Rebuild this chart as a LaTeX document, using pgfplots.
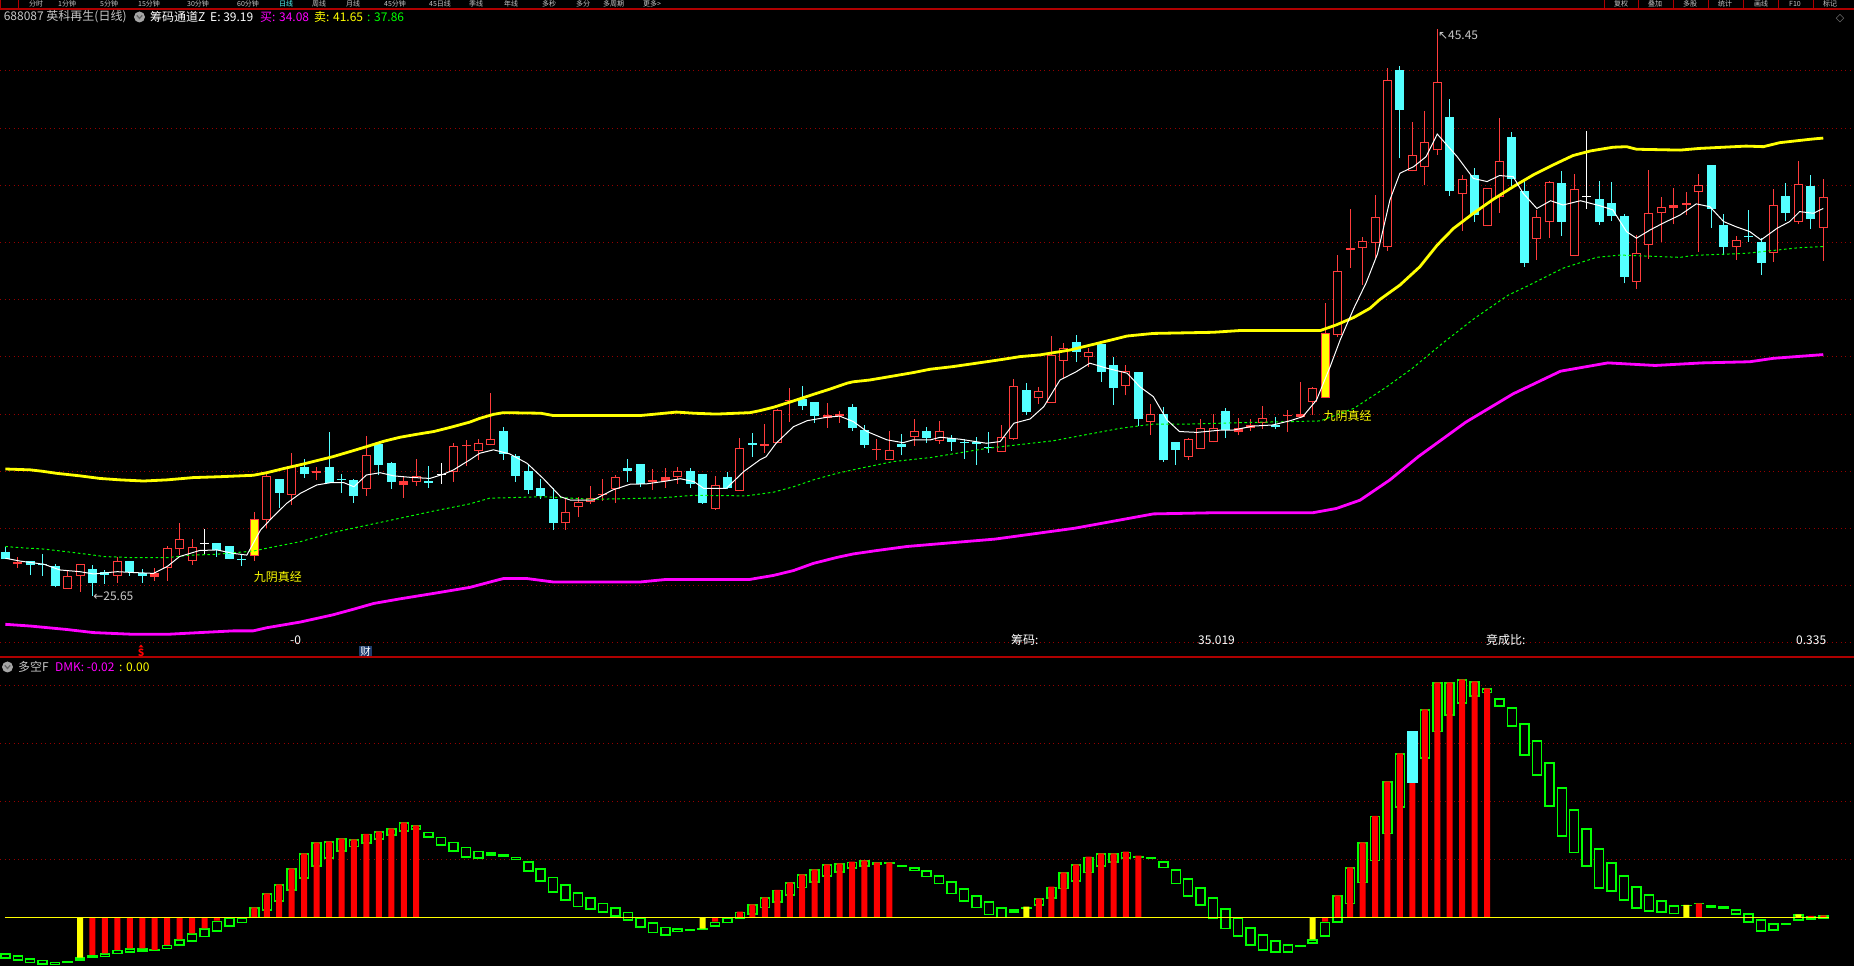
\documentclass[border=0pt]{standalone}
\usepackage{pgfplots}
\pgfplotsset{compat=1.18}
\usepackage{pgfplotstable}
\usepackage{fontspec}
\setmainfont{Noto Sans CJK SC}
\newfontfamily\djv{DejaVu Sans}
\definecolor{cred}{RGB}{255,60,60}
\definecolor{ccyan}{RGB}{84,255,255}
\definecolor{cyel}{RGB}{255,255,0}
\definecolor{cmag}{RGB}{255,0,255}
\definecolor{cgrn}{RGB}{0,255,0}
\definecolor{bred}{RGB}{255,0,0}
\definecolor{gridred}{RGB}{150,0,0}
\definecolor{sepred}{RGB}{175,0,0}
\definecolor{tgray}{RGB}{200,200,200}
\definecolor{cblue}{RGB}{30,60,110}

% ---------- candles: i open high low close ----------
\pgfplotstableread{
i o h l c
5 25.90 26.53 25.90 26.33
6 26.35 26.75 25.79 26.75
9 26.35 26.99 26.11 26.85
13 26.61 27.39 26.18 27.31
14 27.27 28.19 27.06 27.62
15 26.85 27.62 26.74 27.34
21 28.30 29.91 28.03 29.84
23 29.18 30.63 28.83 30.20
29 29.39 31.23 29.15 30.56
33 29.61 30.42 29.50 29.82
36 29.99 30.98 29.64 30.89
38 30.70 31.13 30.41 30.98
39 30.93 32.74 30.91 31.12
45 28.18 29.02 27.96 28.58
46 28.74 29.09 28.40 28.93
47 28.92 29.49 28.85 29.07
49 29.39 29.86 28.90 29.79
54 29.79 30.15 29.57 30.00
57 28.69 29.84 28.66 29.51
59 29.32 31.18 29.32 30.80
62 31.00 32.17 30.98 32.13
71 30.41 31.41 30.41 30.73
73 31.21 31.83 30.90 31.40
75 31.07 31.76 30.96 31.40
80 30.69 31.62 30.69 31.19
81 31.14 33.23 31.11 32.97
83 32.57 32.95 32.35 32.80
84 32.40 34.73 32.40 34.06
85 33.87 34.49 33.27 34.30
87 33.99 34.32 33.66 34.16
90 32.99 33.72 32.65 33.51
92 31.74 32.34 31.28 31.99
95 30.51 31.18 30.40 31.13
96 30.79 31.83 30.79 31.51
97 31.01 32.00 31.01 31.51
101 31.69 32.28 31.48 31.86
105 32.41 32.94 31.97 32.90
107 34.78 37.56 34.70 37.00
109 37.80 38.20 36.51 38.06
110 37.99 39.66 37.47 38.88
111 37.83 44.09 37.71 43.67
113 40.49 42.21 40.49 41.05
114 40.63 42.61 40.00 41.50
115 41.22 45.45 41.07 43.60
117 39.68 40.36 38.41 40.21
119 38.56 39.92 38.56 39.89
120 39.60 42.35 39.04 40.84
123 38.13 39.14 37.40 38.88
124 38.70 40.14 38.17 40.10
126 37.52 40.39 37.52 39.86
131 36.61 38.26 36.39 37.62
132 37.92 40.53 37.43 39.02
133 39.02 39.59 38.02 39.23
136 39.75 40.39 37.67 40.00
139 37.83 38.22 37.40 38.10
142 37.63 39.87 37.33 39.30
144 38.70 40.85 38.63 40.03
146 38.50 40.23 37.36 39.59
}\redH
\pgfplotstableread{
i o h l c
1 26.75 26.99 26.63 26.83
12 26.32 26.62 26.18 26.43
25 29.95 30.14 29.70 30.00
32 29.51 29.79 29.08 29.65
37 30.87 31.10 30.20 30.91
48 29.17 29.73 28.96 29.22
52 29.63 30.07 29.36 29.68
53 29.67 30.12 29.43 29.79
61 30.90 31.65 30.65 30.94
63 32.47 32.91 31.74 32.51
66 31.85 32.39 31.53 31.96
67 31.95 32.10 31.70 32.00
70 30.74 31.14 30.41 30.78
99 31.36 31.86 31.26 31.50
100 31.50 31.83 31.42 31.61
103 31.94 32.14 31.39 31.98
104 31.91 33.12 31.85 32.00
108 37.74 39.17 37.10 37.80
134 39.19 39.91 38.63 39.30
135 39.32 39.77 38.95 39.37
}\redD
\pgfplotstableread{
i o h l c
0 27.17 27.37 26.93 26.93
2 26.88 26.88 26.37 26.72
3 26.75 27.11 26.34 26.71
4 26.69 26.75 25.94 25.99
7 26.57 26.71 25.65 26.11
8 26.47 26.55 26.06 26.37
10 26.85 26.85 26.35 26.49
11 26.43 26.57 26.11 26.35
17 27.49 27.49 27.02 27.24
18 27.38 27.38 26.92 26.95
19 26.95 27.06 26.70 26.89
22 29.73 29.73 28.71 29.25
24 30.15 30.42 29.77 29.92
26 30.15 31.37 29.58 29.58
27 29.73 29.91 29.25 29.69
28 29.68 29.72 28.90 29.14
30 30.96 30.96 29.86 30.23
31 30.29 30.33 29.39 29.64
34 29.67 30.19 29.43 29.60
40 31.41 31.56 30.41 30.62
41 30.54 30.61 29.64 29.85
42 30.02 30.22 29.22 29.36
43 29.42 29.73 29.04 29.14
44 29.03 29.40 27.96 28.20
50 30.12 30.43 29.64 30.01
51 30.26 30.26 29.44 29.56
55 30.00 30.12 29.43 29.57
56 29.91 29.91 28.87 28.90
58 29.80 29.98 29.39 29.43
60 30.98 31.34 30.51 30.93
64 32.53 32.98 32.14 32.30
65 32.42 32.42 31.70 31.93
68 32.25 32.35 31.42 31.53
69 31.44 31.61 30.83 30.93
72 30.96 31.30 30.56 30.86
74 31.41 31.55 31.00 31.18
76 31.18 31.26 30.71 31.04
77 31.04 31.12 30.44 31.00
78 31.04 31.21 30.22 30.96
79 30.86 31.37 30.65 30.82
82 32.84 33.09 31.98 32.07
86 34.51 34.78 33.83 34.18
88 34.46 34.46 33.13 33.48
89 33.72 34.00 32.33 32.92
91 33.47 33.47 31.57 31.84
93 32.00 32.25 30.34 30.41
94 31.02 31.02 30.23 30.76
98 32.12 32.21 31.18 31.44
102 31.61 31.90 31.47 31.54
112 44.03 44.17 40.94 42.64
116 42.39 43.02 39.64 39.81
118 40.36 40.60 38.73 38.97
121 41.69 41.86 39.99 40.21
122 39.80 40.22 37.15 37.29
125 40.07 40.49 38.24 38.73
128 39.52 40.15 38.61 38.73
129 39.37 40.12 38.75 38.94
130 38.93 39.00 36.57 36.81
137 40.71 40.71 38.52 39.18
138 38.61 39.00 37.55 37.85
140 38.23 39.14 38.02 38.19
141 38.02 38.15 36.87 37.29
143 39.63 40.08 38.76 39.04
145 39.97 40.36 38.48 38.82
}\cyanT
\pgfplotstableread{
i o h l c
16 27.46 27.98 27.06 27.50
35 29.88 30.29 29.57 29.92
127 39.58 41.91 39.17 39.62
}\whiteT
\pgfplotstableread{
i o h l c
20 27.05 28.58 26.88 28.33
106 32.57 35.87 32.57 34.85
}\yelT

% ---------- overlay lines ----------
\pgfplotstableread{
x y
0 30.08
2 30.05
3 30.00
4.1 29.93
6 29.84
7.6 29.75
9.2 29.70
11.1 29.66
13 29.70
15.1 29.78
17.2 29.81
19.9 29.86
21 29.95
22.3 30.09
23.7 30.23
25 30.37
26.3 30.51
27.7 30.69
29 30.86
30.4 31.05
31.7 31.19
33 31.29
34.4 31.39
35.7 31.53
37.3 31.72
38.1 31.85
39.2 31.99
40 32.05
43 32.03
44 31.95
51 31.95
52 31.99
53.9 32.07
55.3 32.03
57.1 32.00
59.8 32.05
60.6 32.12
61.7 32.24
63.3 32.46
64.9 32.69
66.2 32.87
67.6 33.08
68.1 33.13
69.4 33.19
71.3 33.33
72.9 33.45
74.3 33.57
76.1 33.66
78.8 33.83
80.2 33.92
81.5 34.01
83.1 34.07
85.5 34.24
87.4 34.44
90.1 34.73
92.2 34.82
97 34.86
99.1 34.92
105.6 34.92
106.9 35.12
108.3 35.38
109.6 35.70
110.4 36.01
112 36.51
113.6 37.15
115 37.91
116.3 38.49
117.9 39.02
119.5 39.51
121.1 39.95
122.7 40.36
124.3 40.71
125.9 41.04
127.3 41.20
129.1 41.33
130.2 41.35
131 41.26
134.5 41.23
136.1 41.29
139.8 41.37
141.2 41.35
142.5 41.49
145.2 41.62
146 41.65
}\ybandT
\pgfplotstableread{
x y
0 24.65
2 24.59
4.9 24.47
7.1 24.36
10.3 24.30
13 24.30
15.6 24.36
18.3 24.42
19.9 24.42
21 24.53
23.7 24.73
26.3 24.98
27.9 25.17
29.6 25.38
31.7 25.54
34.4 25.73
37.3 25.94
39.2 26.16
40 26.25
41.9 26.25
44 26.13
51 26.13
53.1 26.22
59.8 26.22
61.7 26.36
63.3 26.53
64.9 26.78
66.8 26.99
68.1 27.11
70 27.23
72.4 27.37
74.3 27.44
79.5 27.63
85.9 28.01
92.2 28.51
97 28.55
105 28.55
106.9 28.70
108.8 28.99
111.2 29.70
113.5 30.52
117.3 31.72
121.1 32.71
124.9 33.50
128.7 33.79
132.5 33.70
136.3 33.79
140.1 33.83
142 33.95
146 34.08
}\mbandT
\pgfplotstableread{
x y
0 27.37
1.2 27.33
3.1 27.28
4.9 27.19
7.1 27.07
7.9 27.02
10.3 26.98
13 26.98
14.6 27.06
17 27.10
19.9 27.21
21 27.31
23.7 27.54
26.3 27.86
29 28.11
31.7 28.36
34.4 28.61
37.3 28.86
38.9 29.06
43.2 29.11
47.2 29.02
52.6 29.07
55.3 29.16
59.5 29.14
61.7 29.27
63.3 29.46
64.9 29.70
66.8 29.93
68.6 30.10
71.3 30.34
74.3 30.48
78.8 30.80
84.2 31.07
89.5 31.50
92.2 31.65
94.9 31.65
100.2 31.71
105.6 31.76
108.3 32.20
110.9 32.94
113 33.60
115.5 34.50
118 35.35
120.7 36.16
122.4 36.51
125.1 37.10
127.8 37.48
129.7 37.56
134.5 37.48
135.6 37.55
139.8 37.62
143.9 37.81
146 37.86
}\glineT
\pgfplotstableread{
x y
0 26.96
1.2 26.86
3.1 26.75
4.4 26.55
6 26.49
7.1 26.41
9 26.49
10.3 26.46
11.9 26.43
13 26.67
14 27.02
15.6 27.23
17 27.25
18.3 27.13
19.4 27.07
20.5 27.95
21.5 28.41
22.6 28.88
23.7 29.23
25 29.52
26.1 29.60
27.2 29.60
28 29.46
29 29.87
30.1 29.95
31.2 29.84
32.5 29.79
34.1 29.75
35.2 29.90
36 30.05
37.3 30.40
38.1 30.63
39.2 30.75
40.5 30.61
41.9 30.28
43.2 29.75
44.6 29.11
45.4 28.99
47.2 28.99
48.8 29.35
50.2 29.55
51.5 29.56
53.1 29.66
54.2 29.74
55.3 29.64
56.1 29.40
57.9 29.40
59.3 29.99
60.6 30.40
61.1 30.51
61.9 30.98
63.3 31.56
64.4 31.77
66 31.89
67 31.93
68.1 31.74
69.2 31.39
70.8 31.10
72.1 31.00
72.9 31.10
74.3 31.10
75.1 31.19
76.7 31.12
78.8 30.98
79.9 31.04
81 31.68
82.3 31.83
83.4 32.26
84.7 33.19
86 33.48
87.1 33.78
88.5 33.60
90.1 33.43
91.1 32.96
92.2 32.61
93.3 31.79
94.3 31.39
95.7 31.36
97.6 31.44
98.6 31.44
100.2 31.58
101.8 31.62
103.2 31.77
104.2 31.91
105.3 32.49
106.4 33.66
107.2 34.59
108.3 35.70
109.3 36.60
110.2 37.60
111.2 39.49
112 40.42
113.1 40.65
114.1 41.00
115 41.79
116.6 41.00
117.9 40.24
119 40.13
120 40.34
121.1 40.30
121.9 39.72
123 39.19
124.1 39.46
125.1 39.31
126.5 39.46
128.1 39.28
129.1 39.14
130.2 38.38
131 38.15
132.1 38.44
133.2 38.69
134.5 38.96
135.8 39.35
136.9 39.25
138 38.73
139 38.55
140.1 38.38
141 38.09
142.3 38.50
143.3 38.73
144.1 39.08
145.2 39.02
146 39.19
}\wlineT

% ---------- DMK panel ----------
\pgfplotstableread{
i lo hi
0 -0.718 -0.621
1 -0.747 -0.655
2 -0.793 -0.707
3 -0.816 -0.736
4 -0.828 -0.770
8 -0.690 -0.621
9 -0.638 -0.563
10 -0.609 -0.534
13 -0.552 -0.477
14 -0.489 -0.379
15 -0.420 -0.276
16 -0.345 -0.190
17 -0.247 -0.057
18 -0.161 0.000
19 -0.103 0.000
20 -0.017 0.172
21 0.115 0.414
22 0.270 0.569
23 0.460 0.845
24 0.661 1.103
25 0.874 1.293
26 1.011 1.310
27 1.132 1.362
28 1.207 1.345
29 1.270 1.437
30 1.333 1.483
31 1.408 1.534
32 1.477 1.638
33 1.506 1.586
34 1.374 1.477
35 1.236 1.391
36 1.132 1.305
37 1.029 1.218
38 1.011 1.149
41 0.983 1.046
42 0.787 0.966
43 0.615 0.845
44 0.425 0.701
45 0.287 0.569
46 0.172 0.431
47 0.132 0.345
48 0.080 0.253
49 0.011 0.172
50 -0.057 0.098
51 -0.178 0.000
52 -0.276 -0.086
53 -0.316 -0.161
54 -0.259 -0.190
57 -0.161 -0.075
58 -0.103 0.000
59 -0.034 0.098
60 0.040 0.224
61 0.155 0.345
62 0.253 0.471
63 0.374 0.603
64 0.500 0.741
65 0.598 0.828
66 0.701 0.914
67 0.770 0.931
68 0.839 0.960
69 0.874 0.983
73 0.793 0.862
74 0.690 0.810
75 0.569 0.724
76 0.397 0.621
77 0.270 0.500
78 0.155 0.379
79 0.034 0.276
80 -0.017 0.172
83 0.195 0.328
84 0.322 0.529
85 0.483 0.776
86 0.615 0.914
87 0.759 1.046
88 0.874 1.103
89 0.943 1.103
90 1.011 1.132
93 0.845 0.966
94 0.569 0.828
95 0.356 0.672
96 0.201 0.517
97 -0.034 0.345
98 -0.207 0.155
99 -0.333 0.000
100 -0.489 -0.172
101 -0.575 -0.293
102 -0.609 -0.397
103 -0.609 -0.466
105 -0.454 -0.379
106 -0.333 -0.075
107 -0.092 0.379
108 0.224 0.862
109 0.586 1.293
110 0.966 1.747
111 1.431 2.345
112 1.891 2.828
114 2.736 3.586
115 3.190 4.052
116 3.477 4.052
117 3.684 4.103
118 3.805 4.069
119 3.862 3.948
120 3.632 3.776
121 3.287 3.621
122 2.787 3.345
123 2.443 3.052
124 1.908 2.672
125 1.391 2.241
126 1.103 1.862
127 0.874 1.534
128 0.494 1.190
129 0.443 0.948
130 0.287 0.724
131 0.149 0.534
132 0.098 0.397
133 0.080 0.293
134 0.052 0.207
139 0.040 0.138
140 -0.092 0.069
141 -0.247 -0.034
142 -0.230 -0.103
144 -0.057 0.052
145 -0.040 0.023
}\boxT
\pgfplotstableread{
i lo hi
5 -0.785 -0.755
6 -0.747 -0.690
7 -0.707 -0.649
11 -0.592 -0.534
12 -0.578 -0.549
39 1.063 1.121
40 1.034 1.086
55 -0.230 -0.200
56 -0.213 -0.185
70 0.908 0.948
71 0.920 0.948
72 0.862 0.897
81 0.080 0.138
82 0.149 0.184
91 1.023 1.063
92 1.008 1.037
104 -0.510 -0.480
135 0.190 0.218
136 0.221 0.250
137 0.167 0.207
138 0.149 0.190
143 -0.130 -0.100
146 -0.023 0.034
}\flatT
\pgfplotstableread{
i v
7 -0.649
8 -0.621
9 -0.563
10 -0.534
11 -0.534
12 -0.563
13 -0.477
14 -0.379
15 -0.276
16 -0.190
17 -0.057
20 0.172
21 0.414
22 0.569
23 0.845
24 1.103
25 1.293
26 1.310
27 1.362
28 1.345
29 1.437
30 1.483
31 1.534
32 1.638
33 1.586
57 -0.075
59 0.098
60 0.224
61 0.345
62 0.471
63 0.603
64 0.741
65 0.828
66 0.914
67 0.931
68 0.960
69 0.983
70 0.948
71 0.948
83 0.328
84 0.529
85 0.776
86 0.914
87 1.046
88 1.103
89 1.103
90 1.132
91 1.063
106 -0.075
107 0.379
108 0.862
109 1.293
110 1.747
111 2.345
112 2.828
113 2.316
114 3.586
115 4.052
116 4.052
117 4.103
118 4.069
119 3.948
136 0.241
145 0.023
146 0.034
}\redB
\pgfplotstableread{
i v
6 -0.695
56 -0.195
82 0.184
105 -0.379
135 0.213
144 0.052
}\yelB
\pgfplotstableread{
i lo hi
113 2.316 3.213
}\cyanB

\pgfplotsset{
  eb/.style 2 args={draw=none, mark=none, forget plot,
    error bars/.cd, y dir=plus, y explicit, error mark=none,
    error bar style={draw=#1, line width=#2, line cap=butt, solid}},
  panel/.style={scale only axis, width=1854pt,
    axis line style={draw=none}, xtick=\empty, yticklabels={},
    major tick length=0pt, ytick style={draw=none},
    ymajorgrids, major grid style={gridred, line width=1.1pt, dash pattern=on 1.1pt off 3.4pt},
    xmin=-0.426, xmax=148.47, clip=true},
}

\begin{document}
\begin{tikzpicture}
\useasboundingbox (0pt,0pt) rectangle (1854pt,966pt);
\clip (0pt,0pt) rectangle (1854pt,966pt);
\fill[black] (0pt,0pt) rectangle (1854pt,966pt);

% ================= price panel =================
\begin{axis}[panel, at={(0pt,309pt)}, anchor=south west, height=648pt,
  ymin=23.507, ymax=46.164, ytick={24,26,...,44}]
% wicks
\addplot[eb={cred}{1pt}] table[x=i, y=l, y error expr=\thisrow{h}-\thisrow{l}] \redH;
\addplot[eb={cred}{1pt}] table[x=i, y=l, y error expr=\thisrow{h}-\thisrow{l}] \redD;
\addplot[eb={ccyan}{1pt}] table[x=i, y=l, y error expr=\thisrow{h}-\thisrow{l}] \cyanT;
\addplot[eb={white}{1pt}] table[x=i, y=l, y error expr=\thisrow{h}-\thisrow{l}] \whiteT;
\addplot[eb={cred}{1pt}] table[x=i, y=l, y error expr=\thisrow{h}-\thisrow{l}] \yelT;
% bodies
\addplot[eb={cred}{9pt}] table[x=i, y=o, y error expr=\thisrow{c}-\thisrow{o}] \redH;
\addplot[eb={black}{7pt}] table[x=i, y expr=\thisrow{o}+0.035, y error expr=\thisrow{c}-\thisrow{o}-0.07] \redH;
\addplot[eb={cred}{9pt}] table[x=i, y=o, y error expr=\thisrow{c}-\thisrow{o}] \redD;
\addplot[eb={ccyan}{9pt}] table[x=i, y=c, y error expr=\thisrow{o}-\thisrow{c}] \cyanT;
\addplot[eb={white}{9pt}] table[x=i, y=o, y error expr=\thisrow{c}-\thisrow{o}] \whiteT;
\addplot[eb={cred}{9pt}] table[x=i, y=o, y error expr=\thisrow{c}-\thisrow{o}] \yelT;
\addplot[eb={cyel}{7pt}] table[x=i, y expr=\thisrow{o}+0.035, y error expr=\thisrow{c}-\thisrow{o}-0.07] \yelT;
% overlay lines
\addplot[cmag, line width=2.8pt, mark=none, forget plot] table[x=x, y=y] \mbandT;
\addplot[cyel, line width=2.8pt, mark=none, forget plot] table[x=x, y=y] \ybandT;
\addplot[cgrn, line width=1pt, dash pattern=on 2.6pt off 2.6pt, mark=none, forget plot] table[x=x, y=y] \glineT;
\addplot[white, line width=1pt, mark=none, forget plot] table[x=x, y=y] \wlineT;
% annotations
\node[anchor=west, text=tgray, inner sep=0pt, font=\fontsize{12pt}{14pt}\selectfont] at (axis cs:7.05,25.62) {{\djv ←}25.65};
\node[anchor=west, text=tgray, inner sep=0pt, font=\fontsize{12pt}{14pt}\selectfont] at (axis cs:115.05,45.25) {{\djv ↖}45.45};
\node[text=cyel, inner sep=0pt, font=\fontsize{12pt}{14pt}\selectfont] at (axis cs:21.9,26.30) {九阴真经};
\node[text=cyel, inner sep=0pt, font=\fontsize{12pt}{14pt}\selectfont] at (axis cs:107.8,31.93) {九阴真经};
\end{axis}

% ================= DMK panel =================
\begin{axis}[panel, at={(0pt,0pt)}, anchor=south west, height=306pt,
  ymin=-0.840, ymax=4.436, ytick={1,2,3,4}]
\addplot[eb={cgrn}{10.5pt}] table[x=i, y=lo, y error expr=\thisrow{hi}-\thisrow{lo}] \boxT;
\addplot[eb={black}{7.5pt}] table[x=i, y expr=\thisrow{lo}+0.026, y error expr=\thisrow{hi}-\thisrow{lo}-0.052] \boxT;
\addplot[eb={cgrn}{10.5pt}] table[x=i, y=lo, y error expr=\thisrow{hi}-\thisrow{lo}] \flatT;
\addplot[ybar, bar width=6pt, bar shift=0pt, fill=bred, draw=none, forget plot] table[x=i, y=v] \redB;
\addplot[ybar, bar width=6pt, bar shift=0pt, fill=cyel, draw=none, forget plot] table[x=i, y=v] \yelB;
\addplot[eb={ccyan}{10.5pt}] table[x=i, y=lo, y error expr=\thisrow{hi}-\thisrow{lo}] \cyanB;
\addplot[cyel, line width=1.5pt, mark=none, forget plot] coordinates {(-0.05,0) (146.5,0)};
\end{axis}

% ================= frame, menu and texts =================
\draw[sepred, line width=1.6pt] (0pt,309pt) -- (1854pt,309pt);
\draw[sepred, line width=1.4pt] (0pt,957pt) -- (1854pt,957pt);
\draw[sepred, line width=1pt] (0.5pt,957pt) rectangle (18pt,966pt);
\foreach \xx in {1604.6,1638.8,1673.4,1708,1743.5,1778.5,1813.1}
  \draw[sepred, line width=1pt] (\xx pt,957pt) -- (\xx pt,966pt);
\begin{scope}[every node/.style={anchor=base west, inner sep=0pt, text=tgray, font=\fontsize{7pt}{8pt}\selectfont}]
\node at (29pt,959.6pt) {分时};
\node at (58pt,959.6pt) {1分钟};
\node at (100pt,959.6pt) {5分钟};
\node at (138pt,959.6pt) {15分钟};
\node at (187pt,959.6pt) {30分钟};
\node at (237pt,959.6pt) {60分钟};
\node[text=ccyan] at (279pt,959.6pt) {日线};
\node at (312pt,959.6pt) {周线};
\node at (346pt,959.6pt) {月线};
\node at (384pt,959.6pt) {45分钟};
\node at (429pt,959.6pt) {45日线};
\node at (469pt,959.6pt) {季线};
\node at (504pt,959.6pt) {年线};
\node at (542pt,959.6pt) {多秒};
\node at (576pt,959.6pt) {多分};
\node at (603pt,959.6pt) {多周期};
\node at (643pt,959.6pt) {更多>};
\node at (1614pt,959.6pt) {复权};
\node at (1648pt,959.6pt) {叠加};
\node at (1683pt,959.6pt) {多股};
\node at (1718pt,959.6pt) {统计};
\node at (1754pt,959.6pt) {画线};
\node at (1789pt,959.6pt) {F10};
\node at (1823pt,959.6pt) {标记};
\end{scope}
\node[text=gray, font=\djv\fontsize{11pt}{12pt}\selectfont] at (1840pt,947pt) {◇};

\begin{scope}[every node/.style={anchor=west, inner sep=0pt, font=\fontsize{12pt}{14pt}\selectfont}]
\node[text=tgray] at (3.6pt,949pt) {688087 英科再生(日线)};
\node[text=white] at (150pt,949pt) {筹码通道Z};
\node[text=white] at (210pt,949pt) {E: 39.19};
\node[text=cmag] at (260pt,949pt) {买: 34.08};
\node[text=cyel] at (314pt,949pt) {卖: 41.65};
\node[text=cgrn] at (367pt,949pt) {: 37.86};
\node[text=white] at (290pt,326pt) {-0};
\node[text=white] at (1011pt,326pt) {筹码:};
\node[text=white] at (1198pt,326pt) {35.019};
\node[text=white] at (1486pt,326pt) {竞成比:};
\node[text=white] at (1796pt,326pt) {0.335};
\node[text=tgray] at (18pt,299pt) {多空F};
\node[text=cmag] at (55pt,299pt) {DMK: -0.02};
\node[text=cyel] at (119pt,299pt) {: 0.00};
\end{scope}
\fill[gray!70] (139.5pt,949pt) circle (5.5pt);
\draw[black!60, line width=1.3pt] (136.8pt,950.6pt) -- (139.5pt,947.6pt) -- (142.2pt,950.6pt);
\fill[gray!70] (7.5pt,299pt) circle (5.5pt);
\draw[black!60, line width=1.3pt] (4.8pt,300.6pt) -- (7.5pt,297.6pt) -- (10.2pt,300.6pt);
% S and 财 markers
\fill[bred] (138.5pt,318.5pt) -- (143.5pt,318.5pt) -- (141pt,321.5pt) -- cycle;
\node[text=bred, inner sep=0pt, font=\bfseries\fontsize{10pt}{10pt}\selectfont] at (141pt,313pt) {S};
\fill[cblue] (359pt,309.5pt) rectangle (372pt,320pt);
\node[text=white, inner sep=0pt, font=\fontsize{10.5pt}{11pt}\selectfont] at (365.5pt,314.5pt) {财};
\end{tikzpicture}
\end{document}
